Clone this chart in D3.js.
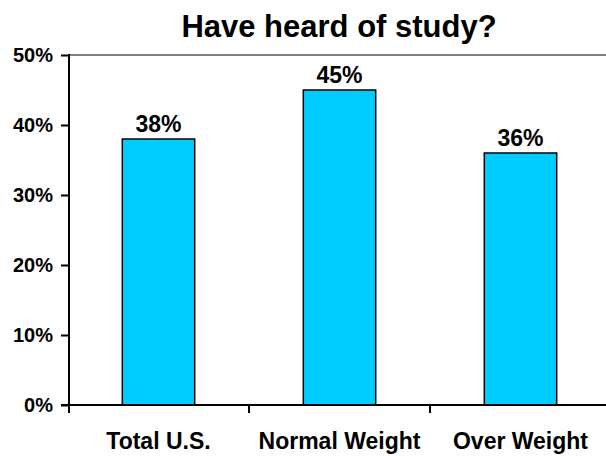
<!DOCTYPE html>
<html>
<head>
<meta charset="utf-8">
<script src="https://cdn.jsdelivr.net/npm/d3@7"></script>
<style>
  body { margin: 0; background: #fff; }
  svg { display: block; font-family: Arial, "Liberation Sans", sans-serif; font-weight: bold; }
</style>
</head>
<body>
<div id="chart"></div>
<script>
// Data
const categories = ['Total U.S.', 'Normal Weight', 'Over Weight'];
const values = [38, 45, 36];
const yTicks = [0, 10, 20, 30, 40, 50];

const W = 606, H = 456;
const plotLeft = 69, plotTop = 55, plotBottom = 405;
const step = 181;

const svg = d3.select('#chart').append('svg')
    .attr('width', W)
    .attr('height', H);

// plot area runs a little past the right edge of the picture
const x = d3.scaleBand()
    .domain(categories)
    .range([plotLeft - 1, plotLeft - 1 + step * categories.length])
    .paddingInner(0.6)
    .paddingOuter(0.3);

const y = d3.scaleLinear()
    .domain([0, 50])
    .range([plotBottom, plotTop]);

// Title
svg.append('text')
    .attr('x', 339)
    .attr('y', 37)
    .attr('text-anchor', 'middle')
    .style('font-size', '31px')
    .text('Have heard of study?');

// Top gridline (50%)
svg.append('line')
    .attr('x1', plotLeft).attr('x2', W)
    .attr('y1', y(50)).attr('y2', y(50))
    .attr('stroke', '#808080')
    .attr('stroke-width', 2);

// Bars
svg.selectAll('rect.bar')
    .data(values)
    .enter()
    .append('rect')
    .attr('class', 'bar')
    .attr('x', (d, i) => x(categories[i]))
    .attr('y', d => y(d))
    .attr('width', x.bandwidth())
    .attr('height', d => y(0) - y(d))
    .attr('fill', '#00CCFF')
    .attr('stroke', '#000')
    .attr('stroke-width', 1.5);

// Bar labels
svg.selectAll('text.val')
    .data(values)
    .enter()
    .append('text')
    .attr('class', 'val')
    .attr('x', (d, i) => x(categories[i]) + x.bandwidth() / 2)
    .attr('y', d => y(d) - 7)
    .attr('text-anchor', 'middle')
    .style('font-size', '23px')
    .text(d => d + '%');

// Y axis
const yAxis = svg.append('g')
    .attr('transform', `translate(${plotLeft},0)`)
    .call(d3.axisLeft(y).tickValues(yTicks).tickSize(8).tickPadding(8).tickFormat(d => d + '%'));
yAxis.select('.domain').remove();
yAxis.selectAll('.tick line').attr('stroke', '#000').attr('stroke-width', 2);
yAxis.selectAll('.tick text')
    .style('font-size', '20px')
    .style('font-family', 'Arial, "Liberation Sans", sans-serif')
    .attr('fill', '#000');
yAxis.append('line')
    .attr('x1', 0).attr('x2', 0)
    .attr('y1', y(50) - 1).attr('y2', y(0) + 8)
    .attr('stroke', '#000')
    .attr('stroke-width', 2);

// X axis
svg.append('line')
    .attr('x1', plotLeft - 8).attr('x2', W)
    .attr('y1', y(0)).attr('y2', y(0))
    .attr('stroke', '#000')
    .attr('stroke-width', 2);

const boundaries = categories.slice(1).map(c => x(c) - x.step() * x.paddingInner() / 2);
svg.selectAll('line.xtick')
    .data(boundaries)
    .enter()
    .append('line')
    .attr('class', 'xtick')
    .attr('x1', d => d).attr('x2', d => d)
    .attr('y1', y(0)).attr('y2', y(0) + 8)
    .attr('stroke', '#000')
    .attr('stroke-width', 2);

svg.selectAll('text.cat')
    .data(categories)
    .enter()
    .append('text')
    .attr('class', 'cat')
    .attr('x', d => x(d) + x.bandwidth() / 2)
    .attr('y', 449)
    .attr('text-anchor', 'middle')
    .style('font-size', '23px')
    .text(d => d);
</script>
</body>
</html>
